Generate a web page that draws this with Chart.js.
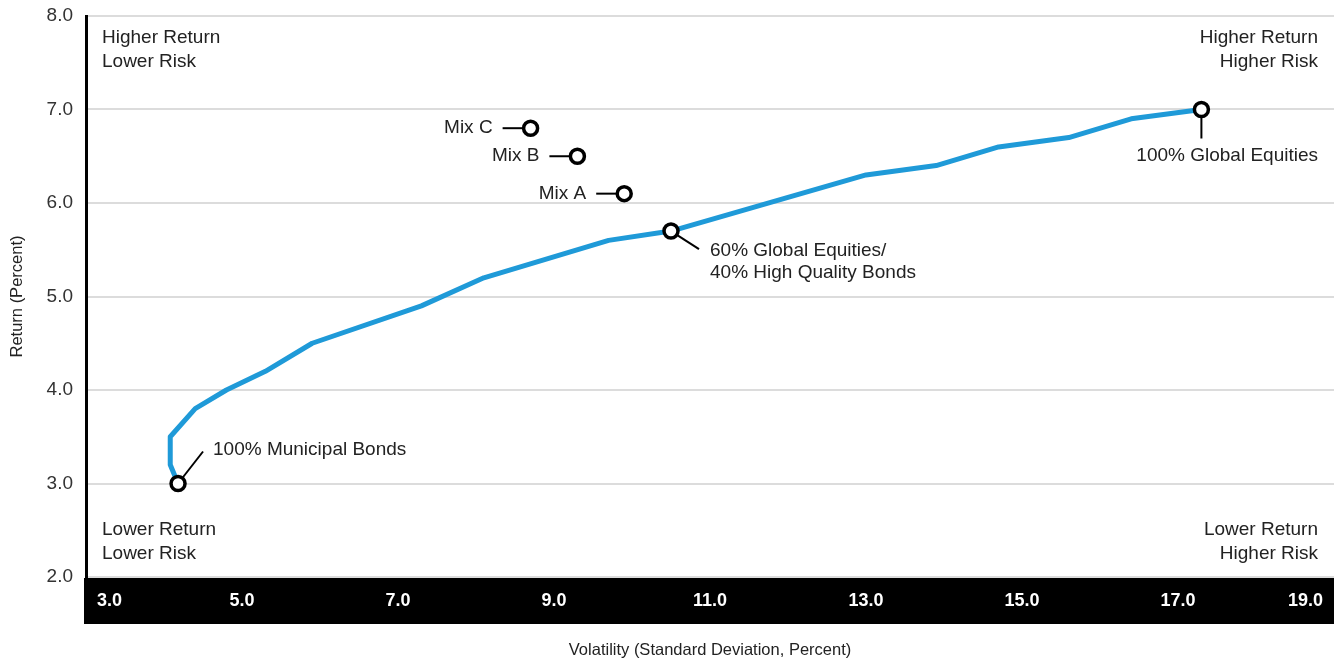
<!DOCTYPE html>
<html>
<head>
<meta charset="utf-8">
<script src="https://cdn.jsdelivr.net/npm/chart.js@4/dist/chart.umd.min.js"></script>
<style>
  html, body { margin: 0; padding: 0; background: #fff; }
  #wrap { width: 1339px; height: 666px; }
</style>
</head>
<body>
<div id="wrap"><canvas id="chart" width="1339" height="666"></canvas></div>
<script>
// efficient frontier curve (volatility %, return %)
const curveVol = [4.18, 4.08, 4.08, 4.4, 4.8, 5.3, 5.9, 7.3, 8.1, 9.7, 10.5, 13.0, 13.9, 14.7, 15.6, 16.4, 17.3];
const curveRet = [3.0, 3.2, 3.5, 3.8, 4.0, 4.2, 4.5, 4.9, 5.2, 5.6, 5.7, 6.3, 6.4, 6.6, 6.7, 6.9, 7.0];

// highlighted portfolios
const pointNames = ['100% Municipal Bonds', '60% Global Equities/\n40% High Quality Bonds', '100% Global Equities', 'Mix A', 'Mix B', 'Mix C'];
const pointVol = [4.18, 10.5, 17.3, 9.9, 9.3, 8.7];
const pointRet = [3.0, 5.7, 7.0, 6.1, 6.5, 6.8];

const xTicks = [3, 5, 7, 9, 11, 13, 15, 17, 19];
const yTicks = [2, 3, 4, 5, 6, 7, 8];

const cornerTop = [['Higher Return', 'Lower Risk'], ['Higher Return', 'Higher Risk']];
const cornerBottom = [['Lower Return', 'Lower Risk'], ['Lower Return', 'Higher Risk']];

const FONT = '"Liberation Sans", Arial, sans-serif';
const TEXT = '#222';

// how each label sits next to its point (px offsets)
const callouts = [
    { line: [25, -32], text: [35, -34], align: 'left' },
    { line: [28, 18], text: [39, 20], align: 'left' },
    { line: [0, 29], text: [0, 46], align: 'rightEdge' },
    { line: [-28, 0], text: [-38, 0], align: 'right' },
    { line: [-28, 0], text: [-38, 0], align: 'right' },
    { line: [-28, 0], text: [-38, 0], align: 'right' }
];

const bandPlugin = {
    id: 'band',
    beforeDraw(chart) {
        const a = chart.chartArea;
        const ctx = chart.ctx;
        ctx.save();
        ctx.fillStyle = '#000';
        ctx.fillRect(a.left - 2, a.bottom + 1, a.right - a.left + 2, 46);
        ctx.restore();
    },
    afterDraw(chart) {
        const a = chart.chartArea;
        const xs = chart.scales.x;
        const ctx = chart.ctx;
        ctx.save();
        ctx.fillStyle = '#fff';
        ctx.font = 'bold 18px ' + FONT;
        ctx.textBaseline = 'middle';
        xs.ticks.forEach(function (t, i) {
            let px = xs.getPixelForValue(t.value);
            ctx.textAlign = 'center';
            if (i === 0) { ctx.textAlign = 'left'; px += 11; }
            if (i === xs.ticks.length - 1) { ctx.textAlign = 'right'; px -= 11; }
            ctx.fillText(t.value.toFixed(1), px, a.bottom + 24);
        });
        ctx.restore();
    }
};

const notesPlugin = {
    id: 'notes',
    beforeDatasetsDraw(chart) {
        const a = chart.chartArea;
        const xs = chart.scales.x, ys = chart.scales.y;
        const ctx = chart.ctx;
        ctx.save();
        ctx.font = '19px ' + FONT;
        ctx.fillStyle = TEXT;
        ctx.textBaseline = 'middle';

        // quadrant captions
        ctx.textAlign = 'left';
        ctx.fillText(cornerTop[0][0], a.left + 16, a.top + 22);
        ctx.fillText(cornerTop[0][1], a.left + 16, a.top + 46);
        ctx.fillText(cornerBottom[0][0], a.left + 16, a.bottom - 47);
        ctx.fillText(cornerBottom[0][1], a.left + 16, a.bottom - 23);
        ctx.textAlign = 'right';
        ctx.fillText(cornerTop[1][0], a.right - 16, a.top + 22);
        ctx.fillText(cornerTop[1][1], a.right - 16, a.top + 46);
        ctx.fillText(cornerBottom[1][0], a.right - 16, a.bottom - 47);
        ctx.fillText(cornerBottom[1][1], a.right - 16, a.bottom - 23);

        // leader lines + labels
        ctx.strokeStyle = '#000';
        ctx.lineWidth = 2;
        pointNames.forEach(function (name, i) {
            const px = xs.getPixelForValue(pointVol[i]);
            const py = ys.getPixelForValue(pointRet[i]);
            const c = callouts[i];
            ctx.beginPath();
            ctx.moveTo(px, py);
            ctx.lineTo(px + c.line[0], py + c.line[1]);
            ctx.stroke();
            let tx = px + c.text[0];
            if (c.align === 'rightEdge') {
                ctx.textAlign = 'right';
                tx = a.right - 16;
            } else {
                ctx.textAlign = c.align;
            }
            name.split('\n').forEach(function (line, k) {
                ctx.fillText(line, tx, py + c.text[1] + k * 22);
            });
        });
        ctx.restore();
    }
};

let myChart = null;

window.onload = function () {
    initChart();
};

function initChart() {
    let ctx = document.getElementById('chart').getContext('2d');
    let curve = curveVol.map(function (v, i) { return { x: v, y: curveRet[i] }; });
    let points = pointVol.map(function (v, i) { return { x: v, y: pointRet[i] }; });

    myChart = new Chart(ctx, {
        type: 'scatter',
        data: {
            datasets: [{
                label: 'Portfolios',
                data: points,
                order: 0,
                pointRadius: 7,
                pointHoverRadius: 7,
                pointBorderWidth: 3.5,
                pointBackgroundColor: '#fff',
                pointBorderColor: '#000'
            }, {
                label: 'Frontier',
                type: 'line',
                data: curve,
                order: 1,
                showLine: true,
                fill: false,
                tension: 0,
                pointRadius: 0,
                borderWidth: 5,
                borderColor: '#1f9ad8',
                borderJoinStyle: 'round'
            }]
        },
        options: {
            responsive: false,
            animation: false,
            layout: { autoPadding: false, padding: { top: 16, right: 5, left: 0, bottom: 0 } },
            plugins: {
                legend: { display: false },
                tooltip: { enabled: false }
            },
            scales: {
                x: {
                    type: 'linear',
                    min: xTicks[0],
                    max: xTicks[xTicks.length - 1],
                    afterBuildTicks: function (s) { s.ticks = xTicks.map(function (v) { return { value: v }; }); },
                    afterFit: function (s) {
                        s.height = 89;
                        s.paddingLeft = 0;
                        s.paddingRight = 0;
                    },
                    grid: { display: false },
                    border: { display: false },
                    ticks: { display: false },
                    title: {
                        display: true,
                        text: 'Volatility (Standard Deviation, Percent)',
                        color: TEXT,
                        font: { family: FONT, size: 16.5 },
                        padding: { top: 0, bottom: 6 }
                    }
                },
                y: {
                    min: yTicks[0],
                    max: yTicks[yTicks.length - 1],
                    afterBuildTicks: function (s) { s.ticks = yTicks.map(function (v) { return { value: v }; }); },
                    afterFit: function (s) {
                        s.width = 86;
                        s.paddingTop = 0;
                        s.paddingBottom = 0;
                    },
                    grid: { color: '#dcdcdc', lineWidth: 2, drawTicks: false },
                    border: { display: true, color: '#000', width: 3 },
                    ticks: {
                        color: '#333',
                        padding: 13,
                        font: { family: FONT, size: 19 },
                        callback: function (v) { return Number(v).toFixed(1); }
                    },
                    title: {
                        display: true,
                        text: 'Return (Percent)',
                        color: TEXT,
                        font: { family: FONT, size: 16.5 },
                        padding: { top: 8, bottom: 0 }
                    }
                }
            }
        },
        plugins: [bandPlugin, notesPlugin]
    });
}
</script>
</body>
</html>
